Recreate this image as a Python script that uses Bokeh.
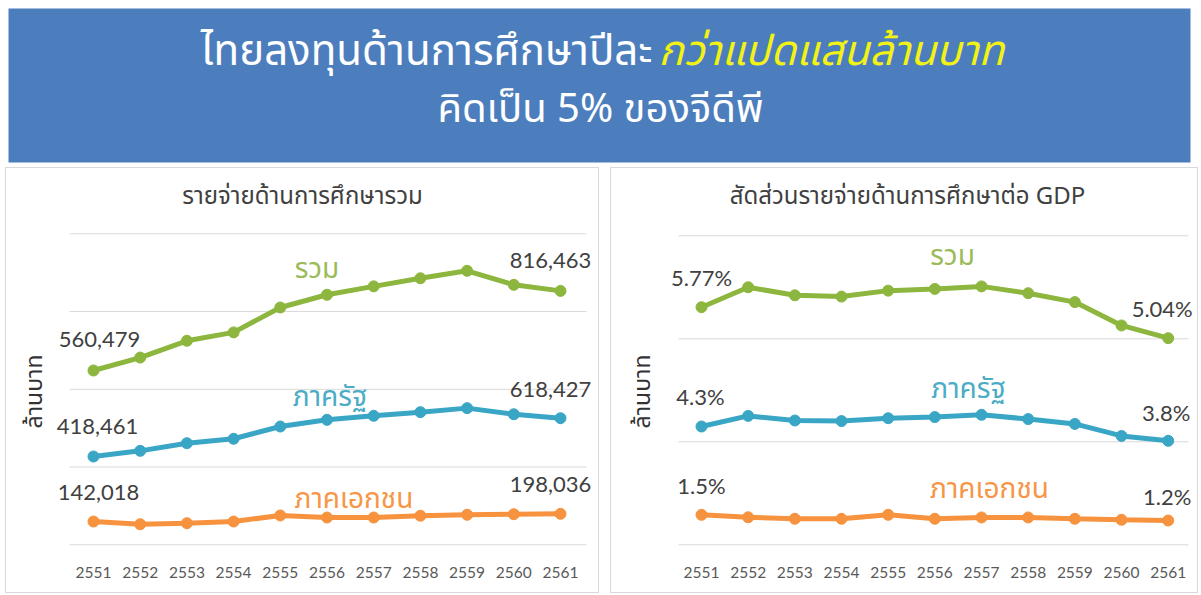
import math
from bokeh.plotting import figure
from bokeh.models import Range1d, ColumnDataSource, Label, LabelSet, Spacer
from bokeh.layouts import column, row
from bokeh.embed import file_html
from bokeh.resources import INLINE
from bokeh.core.properties import value

# ---------------- data ----------------
years = [2551, 2552, 2553, 2554, 2555, 2556, 2557, 2558, 2559, 2560, 2561]
spend_total = [560479, 602000, 656000, 683000, 763000, 804000, 831000, 857000, 881000, 836000, 816463]
spend_gov = [418461, 448000, 488000, 511000, 575000, 610000, 631000, 650000, 671000, 639000, 618427]
spend_private = [142018, 122000, 130000, 142000, 186000, 171000, 171000, 184000, 191000, 195000, 198036]
gdp_total = [5.77, 6.24, 6.05, 6.02, 6.16, 6.20, 6.26, 6.10, 5.89, 5.34, 5.04]
gdp_gov = [4.3, 4.67, 4.51, 4.49, 4.59, 4.63, 4.71, 4.56, 4.39, 3.97, 3.8]
gdp_private = [1.5, 1.37, 1.29, 1.29, 1.5, 1.29, 1.36, 1.36, 1.29, 1.24, 1.2]
series_names = ["รวม", "ภาครัฐ", "ภาคเอกชน"]
spend_grid = [0, 250000, 500000, 750000, 1000000]
gdp_grid = [0, 1, 2, 3]
title_main_white = "ไทยลงทุนด้านการศึกษาปีละ"
title_main_yellow = "กว่าแปดแสนล้านบาท"
title_sub = "คิดเป็น 5% ของจีดีพี"
chart_titles = ["รายจ่ายด้านการศึกษารวม", "สัดส่วนรายจ่ายด้านการศึกษาต่อ GDP"]
y_label = "ล้านบาท"

# ---------------- styles ----------------
GREEN, BLUE, ORANGE = "#8db63f", "#3aa6c6", "#f7923e"
GREEN_T, BLUE_T, ORANGE_T = "#9bbb59", "#4bacc6", "#f79646"
THAI = "Noto Sans Thai, Noto Sans, sans-serif"
NUM = "Lato"
TXT = "#404040"

PANEL_TOP, PANEL_H = 167, 426
FRAME_TOP, FRAME_BOTTOM = PANEL_TOP, 556   # page pixel rows of plot frame


def fit_range(va, pa, vb, pb):
    per = (vb - va) / (pa - pb)
    return Range1d(va - (FRAME_BOTTOM - pa) * per, va + (pa - FRAME_TOP) * per)


def fit_x(xa, pa, xb, pb, left, right):
    per = (xb - xa) / (pb - pa)
    return Range1d(xa - (pa - left) * per, xb + (right - pb) * per)


def x_at(px, xr, fl, fr):
    return xr.start + (px - fl) / (fr - fl) * (xr.end - xr.start)


def y_at(py, yr):
    return yr.end - (py - FRAME_TOP) / (FRAME_BOTTOM - FRAME_TOP) * (yr.end - yr.start)


def panel(title, width, fl, xr, yr, extra, grid, grid_l, grid_r, title_cx, ylab_x):
    fr = fl + width
    p = figure(width=width, height=PANEL_H, x_range=xr, y_range=yr,
               output_backend="svg", toolbar_location=None, y_axis_location=None,
               min_border_left=0, min_border_right=0, min_border_top=0,
               min_border_bottom=PANEL_TOP + PANEL_H - FRAME_BOTTOM,
               styles={"border": "1px solid #d9d9d9", "box-sizing": "border-box"})
    p.extra_y_ranges = extra
    p.outline_line_color = None
    p.background_fill_color = "white"
    p.border_fill_color = "white"
    p.grid.visible = False
    gx0, gx1 = x_at(grid_l, xr, fl, fr), x_at(grid_r, xr, fl, fr)
    p.segment(x0=[gx0] * len(grid), x1=[gx1] * len(grid), y0=grid, y1=grid,
              line_color="#d9d9d9", line_width=1)
    p.add_layout(Label(x=x_at(title_cx, xr, fl, fr), y=y_at(195, yr), text=title,
                       text_align="center", text_baseline="middle", text_font=THAI,
                       text_font_size="24px", text_color=TXT))
    p.add_layout(Label(x=x_at(ylab_x, xr, fl, fr), y=y_at(390, yr), text=y_label, angle=math.pi / 2,
                       text_align="center", text_baseline="middle", text_font=THAI,
                       text_font_size="23px", text_color="#333333"))
    p.xaxis.ticker = years
    p.xaxis.axis_line_color = None
    p.xaxis.major_tick_line_color = None
    p.xaxis.minor_tick_line_color = None
    p.xaxis.major_label_text_font = NUM
    p.xaxis.major_label_text_font_size = "15.5px"
    p.xaxis.major_label_text_color = "#595959"
    p.xaxis.major_label_standoff = 3
    return p


def series(p, ys, rname, color, tcolor, labels, offs, name, name_idx, name_off):
    rn = "default" if rname is None else rname
    p.line(years, ys, line_width=5, color=color, y_range_name=rn)
    p.scatter(years, ys, size=11, color=color, y_range_name=rn)
    src = ColumnDataSource(dict(x=[years[0], years[-1]], y=[ys[0], ys[-1]], t=labels,
                                xo=[offs[0][0], offs[1][0]], yo=[-offs[0][1], -offs[1][1]]))
    p.add_layout(LabelSet(x="x", y="y", text="t", source=src, x_offset="xo", y_offset="yo",
                          text_align="center", text_baseline="middle", text_font=value(NUM),
                          text_font_size=value("22px"), text_color=value(TXT), y_range_name=rn))
    p.add_layout(Label(x=years[name_idx], y=ys[name_idx], text=name,
                       x_offset=name_off[0], y_offset=-name_off[1],
                       text_align="center", text_baseline="middle", text_font=THAI,
                       text_font_size="28px", text_color=tcolor, y_range_name=rn))


# ---------------- banner ----------------
BLUE_BG = "#4c7ebd"
banner = figure(width=1201, height=PANEL_TOP, x_range=Range1d(8, 1190), y_range=Range1d(162, 8),
                output_backend="svg", toolbar_location=None,
                min_border_left=8, min_border_right=11, min_border_top=8, min_border_bottom=PANEL_TOP - 162,
                x_axis_location=None, y_axis_location=None)
banner.grid.visible = False
banner.outline_line_color = None
banner.background_fill_color = BLUE_BG
banner.border_fill_color = "white"
banner.add_layout(Label(x=652, y=51, text=title_main_white, text_align="right", text_baseline="middle",
                        text_color="white", text_font=THAI, text_font_size="42px"))
banner.add_layout(Label(x=658, y=51, text=title_main_yellow, text_align="left", text_baseline="middle",
                        text_color="#f2f215", text_font=THAI, text_font_size="42px",
                        text_font_style="italic"))
banner.add_layout(Label(x=600, y=109, text=title_sub, text_align="center", text_baseline="middle",
                        text_color="white", text_font=THAI, text_font_size="40px"))

# ---------------- left panel ----------------
L0, LW = 5, 594
xr1 = fit_x(years[0], 92, years[-1], 559, L0, L0 + LW)
p1 = panel(chart_titles[0], LW, L0, xr1,
           fit_range(spend_grid[0], 543.3, spend_grid[-1], 232.3),
           {"gov": fit_range(spend_gov[0], 455, spend_gov[-1], 416.7),
            "priv": fit_range(spend_private[0], 520, spend_private[-1], 512.3)},
           spend_grid, 68, 585, 301, 33)
fmt_n = lambda v: f"{v:,}"
series(p1, spend_total, None, GREEN, GREEN_T, [fmt_n(spend_total[0]), fmt_n(spend_total[-1])],
       [(6, -31), (-10, -30)], series_names[0], 5, (-10, -25))
series(p1, spend_gov, "gov", BLUE, BLUE_T, [fmt_n(spend_gov[0]), fmt_n(spend_gov[-1])],
       [(4, -30), (-10, -29)], series_names[1], 5, (3, -22))
series(p1, spend_private, "priv", ORANGE, ORANGE_T, [fmt_n(spend_private[0]), fmt_n(spend_private[-1])],
       [(5, -29), (-10, -29)], series_names[2], 5, (27, -18))

# ---------------- right panel ----------------
R0, RW = 610, 588
xr2 = fit_x(years[0], 700, years[-1], 1166.7, R0, R0 + RW)
p2 = panel(chart_titles[1], RW, R0, xr2,
           fit_range(gdp_grid[0], 543.3, gdp_grid[-1], 234.3),
           {"tot": fit_range(gdp_total[0], 305.7, gdp_total[-1], 336.7),
            "gov": fit_range(gdp_gov[0], 425, gdp_gov[-1], 439.3),
            "priv": fit_range(gdp_private[0], 513.3, gdp_private[-1], 519)},
           gdp_grid, 677, 1187, 906, 641)
fmt_p = lambda v: f"{v:g}%"
series(p2, gdp_total, "tot", GREEN, GREEN_T, [fmt_p(gdp_total[0]), fmt_p(gdp_total[-1])],
       [(0, -30), (-6, -30)], series_names[0], 6, (-29, -30))
series(p2, gdp_gov, "gov", BLUE, BLUE_T, [fmt_p(gdp_gov[0]), fmt_p(gdp_gov[-1])],
       [(-1, -30), (-2, -28)], series_names[1], 6, (-13, -25))
series(p2, gdp_private, "priv", ORANGE, ORANGE_T, [fmt_p(gdp_private[0]), fmt_p(gdp_private[-1])],
       [(0, -29), (-1, -24)], series_names[2], 6, (8, -28))

layout = column(banner, row(Spacer(width=L0, height=PANEL_H), p1,
                            Spacer(width=R0 - L0 - LW, height=PANEL_H), p2))
open("out.html", "w").write(file_html(layout, INLINE))
